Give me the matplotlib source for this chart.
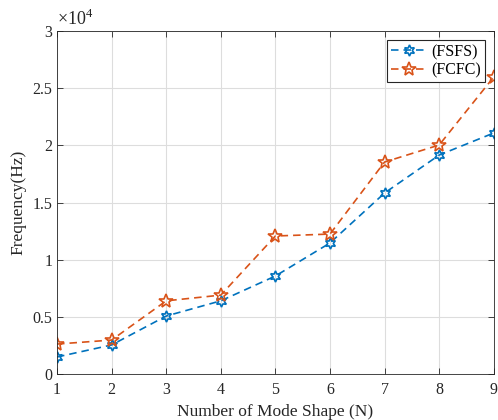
import matplotlib.pyplot as plt

plt.rcParams['font.family'] = ['Liberation Serif', 'DejaVu Serif']
plt.rcParams['mathtext.fontset'] = 'custom'
plt.rcParams['mathtext.rm'] = 'Liberation Serif'

modes = [1, 2, 3, 4, 5, 6, 7, 8, 9]
fsfs = [1490, 2540, 5070, 6400, 8570, 11460, 15830, 19150, 21080]
fcfc = [2620, 2970, 6400, 6900, 12070, 12240, 18540, 20030, 25980]

fig = plt.figure(figsize=(4.98, 4.2), dpi=100)
ax = fig.add_axes([0.1145, 0.1095, 0.877, 0.8167])

ax.plot(modes, fsfs, color='#0072BD', marker=(6, 1, 0), markersize=8,
        markerfacecolor='none', markeredgewidth=1.2, linewidth=1.2,
        linestyle=(0, (4.5, 3)), label='(FSFS)')
ax.plot(modes, fcfc, color='#D95319', marker='*', markersize=10,
        markerfacecolor='none', markeredgewidth=1.2, linewidth=1.2,
        linestyle=(0, (4.5, 3)), label='(FCFC)')

ax.set_xlim(1, 9)
ax.set_ylim(0, 30000)
ax.set_xticks(modes)
ax.set_yticks([0, 5000, 10000, 15000, 20000, 25000, 30000])
ax.set_yticklabels(['0', '0.5', '1', '1.5', '2', '2.5', '3'])
ax.tick_params(direction='in', labelsize=11.5, length=4, width=0.6, colors='#262626',
               top=True, right=True)
ax.tick_params(axis='x', pad=6)
ax.grid(True, color='#dddddd', linewidth=0.8)
for s in ax.spines.values():
    s.set_linewidth(0.6)
    s.set_color('#262626')

ax.text(0.0, 1.005, r'$\times 10^{4}$', transform=ax.transAxes, fontsize=13,
        ha='left', va='bottom', color='#262626')

ax.set_xlabel('Number of Mode Shape (N)', fontsize=12.5, color='#262626')
ax.set_ylabel('Frequency(Hz)', fontsize=12.5, color='#262626')

leg = ax.legend(loc='upper right', fontsize=11.5, fancybox=False, edgecolor='#262626',
                framealpha=1, handlelength=2.2, borderpad=0.25, labelspacing=0.15,
                handletextpad=0.3, borderaxespad=0,
                bbox_to_anchor=(0.98, 0.974))
leg.get_frame().set_linewidth(0.8)

fig.savefig('out.png', dpi=100)
